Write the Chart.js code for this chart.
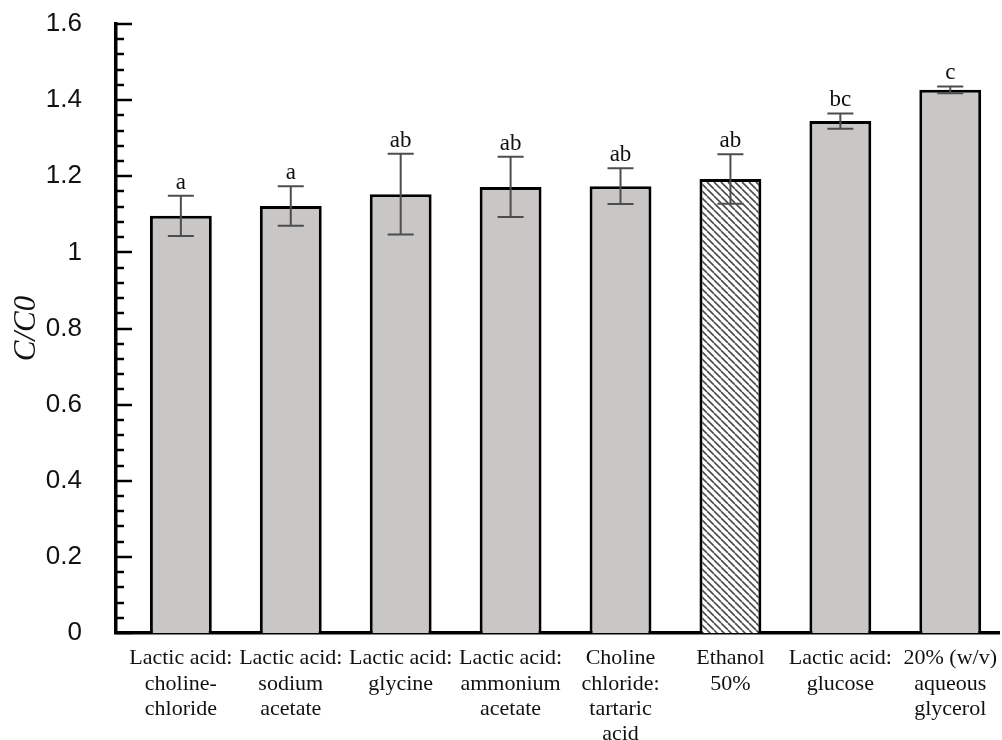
<!DOCTYPE html>
<html>
<head>
<meta charset="utf-8">
<script src="https://cdn.jsdelivr.net/npm/chart.js@4.4.0/dist/chart.umd.min.js"></script>
<style>
  html, body { margin: 0; padding: 0; background: #fff; }
  #wrap { width: 1002px; height: 740px; }
</style>
</head>
<body>
<div id="wrap"><canvas id="chart" width="1002" height="740"></canvas></div>
<script>
// Categories (multi-line x labels)
const categories = [
    ['Lactic acid:', 'choline-', 'chloride'],
    ['Lactic acid:', 'sodium', 'acetate'],
    ['Lactic acid:', 'glycine'],
    ['Lactic acid:', 'ammonium', 'acetate'],
    ['Choline', 'chloride:', 'tartaric', 'acid'],
    ['Ethanol', '50%'],
    ['Lactic acid:', 'glucose'],
    ['20% (w/v)', 'aqueous', 'glycerol']
];
// C/C0 means and their error (+/-)
const ratios = [1.096, 1.122, 1.153, 1.172, 1.174, 1.193, 1.345, 1.427];
const errors = [0.053, 0.052, 0.106, 0.079, 0.047, 0.065, 0.020, 0.009];
// significance letters above each bar
const groups = ['a', 'a', 'ab', 'ab', 'ab', 'ab', 'bc', 'c'];
// which bar is the hatched reference
const hatchedIndex = 5;

const serif = '"Liberation Serif", "Times New Roman", serif';
const sans = '"Liberation Sans", Arial, sans-serif';

// diagonal hatch pattern for the ethanol bar
function makeHatch() {
    const s = 7;
    const c = document.createElement('canvas');
    c.width = s; c.height = s;
    const g = c.getContext('2d');
    g.fillStyle = '#ffffff';
    g.fillRect(0, 0, s, s);
    g.strokeStyle = '#4a4a4a';
    g.lineWidth = 1.6;
    [-s, 0, s].forEach(off => {
        g.beginPath();
        g.moveTo(off, 0);
        g.lineTo(off + s, s);
        g.stroke();
    });
    return g.createPattern(c, 'repeat');
}

const ctx = document.getElementById('chart').getContext('2d');
const hatch = makeHatch();
const fills = ratios.map((v, i) => i === hatchedIndex ? hatch : '#c9c6c6');

// error bars and letters
const errorBars = {
    id: 'errorBars',
    afterDatasetsDraw(chart) {
        const { ctx, scales: { x, y } } = chart;
        ctx.save();
        ctx.strokeStyle = '#4d4d4d';
        ctx.lineWidth = 2;
        ctx.fillStyle = '#111';
        ctx.font = '23px ' + serif;
        ctx.textAlign = 'center';
        ctx.textBaseline = 'alphabetic';
        ratios.forEach((v, i) => {
            const px = x.getPixelForValue(i);
            const top = y.getPixelForValue(v + errors[i]);
            const bot = y.getPixelForValue(v - errors[i]);
            ctx.beginPath();
            ctx.moveTo(px, top);
            ctx.lineTo(px, bot);
            ctx.moveTo(px - 13, top);
            ctx.lineTo(px + 13, top);
            ctx.moveTo(px - 13, bot);
            ctx.lineTo(px + 13, bot);
            ctx.stroke();
            ctx.fillText(groups[i], px, top - 7);
        });
        ctx.restore();
    }
};

// inward major/minor ticks on the y axis
const yTickMarks = {
    id: 'yTickMarks',
    afterDraw(chart) {
        const { ctx, chartArea, scales: { y } } = chart;
        ctx.save();
        ctx.strokeStyle = '#000';
        ctx.lineWidth = 2.5;
        for (let i = 0; i <= 40; i++) {
            const py = Math.round(y.getPixelForValue(i * 0.04));
            const len = i % 5 === 0 ? 16 : 8;
            ctx.beginPath();
            ctx.moveTo(chartArea.left, py);
            ctx.lineTo(chartArea.left + len, py);
            ctx.stroke();
        }
        ctx.restore();
    }
};

new Chart(ctx, {
    type: 'bar',
    data: {
        datasets: [{
            data: ratios.map((v, i) => ({ x: i, y: v })),
            backgroundColor: fills,
            borderColor: '#000',
            borderWidth: 3,
            borderSkipped: 'bottom',
            categoryPercentage: 1,
            barPercentage: 0.563
        }]
    },
    options: {
        responsive: false,
        animation: false,
        layout: { padding: { top: 24, right: 0, bottom: 0, left: 0 } },
        plugins: {
            legend: { display: false },
            tooltip: { enabled: false }
        },
        scales: {
            x: {
                type: 'linear',
                offset: false,
                min: -0.59,
                max: 7.45,
                grid: { display: false },
                border: { display: true, color: '#000', width: 3.5 },
                ticks: {
                    stepSize: 1,
                    includeBounds: false,
                    autoSkip: false,
                    maxRotation: 0,
                    minRotation: 0,
                    padding: 5,
                    color: '#111',
                    font: { family: serif, size: 22, lineHeight: 1.15 },
                    callback: v => Number.isInteger(v) ? categories[v] : ''
                },
                afterFit: s => { s.height = 107; }
            },
            y: {
                min: 0,
                max: 1.6,
                grid: { display: false },
                border: { display: true, color: '#000', width: 3.5 },
                ticks: {
                    stepSize: 0.2,
                    padding: 26,
                    color: '#111',
                    font: { family: sans, size: 26 },
                    callback: v => String(+v.toFixed(1))
                },
                title: {
                    display: true,
                    text: 'C/C0',
                    color: '#111',
                    font: { family: serif, style: 'italic', size: 31 },
                    padding: { top: 8, bottom: 0 }
                },
                afterFit: s => {
                    s.width = 116;
                    s.paddingTop = 10;
                    s.paddingBottom = 10;
                }
            }
        }
    },
    plugins: [errorBars, yTickMarks]
});
</script>
</body>
</html>
